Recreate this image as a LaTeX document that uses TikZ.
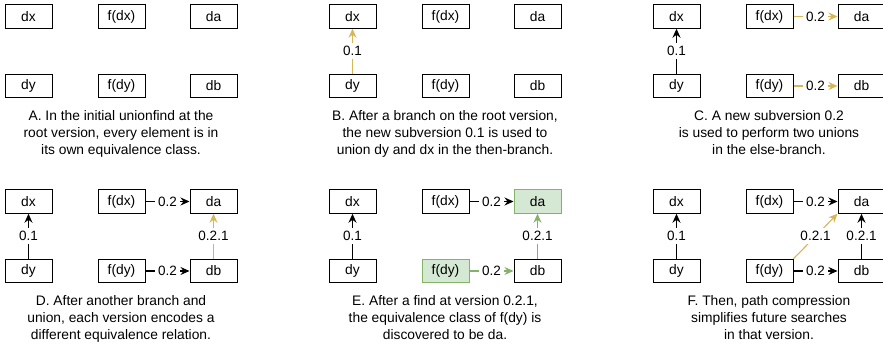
\documentclass[tikz,border=0pt]{standalone}
\usepackage{fontspec}
\setmainfont{Liberation Sans}
\usetikzlibrary{arrows.meta}
\definecolor{yel}{HTML}{D6B656}
\definecolor{gfill}{HTML}{D5E8D4}
\definecolor{gline}{HTML}{82B366}
\newcommand\mkpanel[6]{%
 \node[box] (#1dx) at (#2+23.5,#3+11.5) {dx};
 \node[box] (#1fdx) at (#2+116.5,#3+11.5) {f(dx)};
 \node[#5] (#1da) at (#2+208.5,#3+11.5) {da};
 \node[box] (#1dy) at (#2+23.5,#3+81) {dy};
 \node[#4] (#1fdy) at (#2+116.5,#3+81) {f(dy)};
 \node[box] (#1db) at (#2+208.5,#3+81) {db};
 \node[captxt] (#1cap) at (#2+116,#3+105) {#6};
}
\begin{document}
\begin{tikzpicture}[x=1pt,y=-1pt,
 box/.style={draw=black,line width=1pt,minimum width=47pt,minimum height=23.5pt,inner sep=0pt,font=\fontsize{13.8}{15}\selectfont},
 gbox/.style={box,draw=gline,fill=gfill},
 lbl/.style={fill=white,inner xsep=3.5pt,inner ysep=3pt,text=black,font=\fontsize{13.5}{15}\selectfont},
 arr/.style={line width=1.1pt,-{Stealth[length=9pt,width=8pt,inset=3pt]}},
 captxt/.style={align=center,anchor=north,inner sep=0pt,font=\fontsize{13.8}{17}\selectfont}]
\useasboundingbox (0,0) rectangle (883,344);
\mkpanel{A}{5}{5}{box}{box}{A. In the initial unionfind at the\\root version, every element is in\\its own equivalence class.}
\mkpanel{B}{329}{5}{box}{box}{B. After a branch on the root version,\\the new subversion 0.1 is used to\\union dy and dx in the then-branch.}
\mkpanel{C}{653}{5}{box}{box}{C. A new subversion 0.2\\is used to perform two unions\\in the else-branch.}
\mkpanel{D}{5}{190}{box}{box}{D. After another branch and\\union, each version encodes a\\different equivalence relation.}
\mkpanel{E}{329}{190}{gbox}{gbox}{E. After a find at version 0.2.1,\\the equivalence class of f(dy) is\\discovered to be da.}
\mkpanel{F}{653}{190}{box}{box}{F. Then, path compression\\simplifies future searches\\in that version.}
% B
\draw[arr,draw=yel] (Bdy) -- node[lbl]{0.1} (Bdx);
% C
\draw[arr] (Cdy) -- node[lbl]{0.1} (Cdx);
\draw[arr,draw=yel] (Cfdx) -- node[lbl]{0.2} (Cda);
\draw[arr,draw=yel] (Cfdy) -- node[lbl]{0.2} (Cdb);
% D
\draw[arr] (Ddy) -- node[lbl]{0.1} (Ddx);
\draw[arr] (Dfdx) -- node[lbl]{0.2} (Dda);
\draw[arr] (Dfdy) -- node[lbl]{0.2} (Ddb);
\draw[arr,draw=yel] (Ddb) -- node[lbl]{0.2.1} (Dda);
% E
\draw[arr] (Edy) -- node[lbl]{0.1} (Edx);
\draw[arr] (Efdx) -- node[lbl]{0.2} (Eda);
\draw[arr,draw=gline] (Efdy) -- node[lbl]{0.2} (Edb);
\draw[arr,draw=gline] (Edb) -- node[lbl]{0.2.1} (Eda);
% F
\draw[arr] (Fdy) -- node[lbl]{0.1} (Fdx);
\draw[arr] (Ffdx) -- node[lbl]{0.2} (Fda);
\draw[arr] (Ffdy) -- node[lbl]{0.2} (Fdb);
\draw[arr] (Fdb) -- node[lbl]{0.2.1} (Fda);
\draw[arr,draw=yel] (Ffdy.north east) -- node[lbl]{0.2.1} (Fda.south west);
\end{tikzpicture}
\end{document}
